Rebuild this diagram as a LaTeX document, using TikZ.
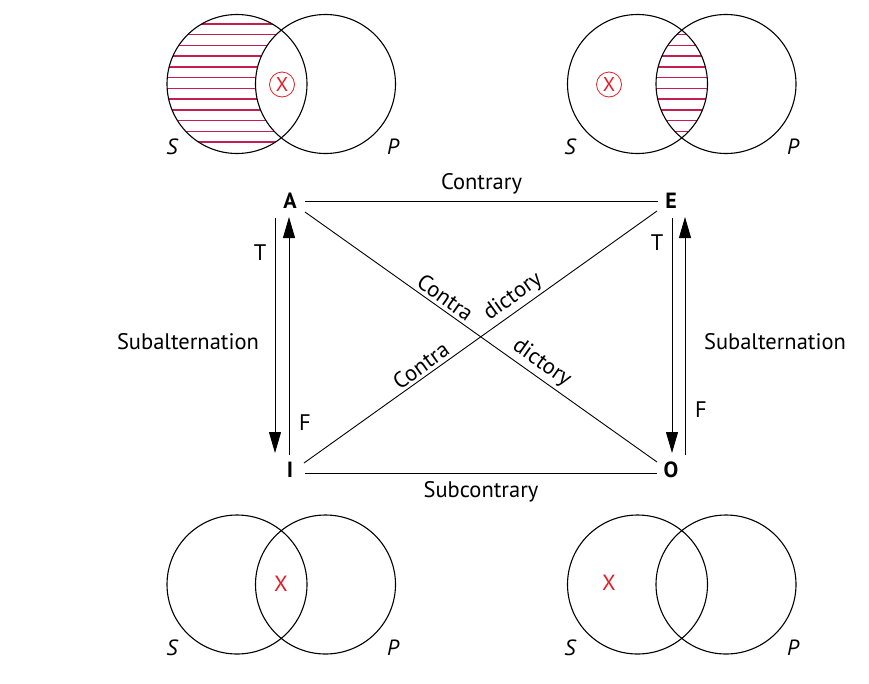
\documentclass[tikz,border=0pt]{standalone}
\usepackage{fontspec}
\setmainfont{PT Sans}
\usetikzlibrary{arrows.meta}
\definecolor{hatch}{RGB}{196,30,80}
\definecolor{xred}{RGB}{225,30,40}
\begin{document}
\begin{tikzpicture}[x=1pt,y=-1pt,
  every node/.style={font=\fontsize{22.5}{26}\selectfont, inner sep=0pt},
  vennline/.style={line width=1.1pt},
  hatchline/.style={draw=hatch, line width=1.4pt},
  conn/.style={line width=0.9pt},
  arr/.style={line width=0.9pt, -{Triangle[length=21pt,width=12pt]}},
  corner/.style={font=\bfseries\fontsize{22}{26}\selectfont},
  setlbl/.style={font=\itshape\fontsize{22}{26}\selectfont},
  redx/.style={text=xred, font=\fontsize{22}{26}\selectfont},
  circx/.style={draw=xred, text=xred, circle, line width=0.8pt, minimum size=25pt, font=\fontsize{20}{24}\selectfont}
]
\useasboundingbox (0,0) rectangle (869,683);

% ---------- top-left Venn (A) ----------
\begin{scope}
  \clip (237,84) ellipse [x radius=70, y radius=69.5];
  \foreach \k in {0,...,11} \draw[hatchline] (150,{24+10.73*\k}) -- (420,{24+10.73*\k});
  \fill[white] (325.5,84) ellipse [x radius=70, y radius=69.5];
\end{scope}
\draw[vennline] (237,84) ellipse [x radius=70, y radius=69.5];
\draw[vennline] (325.5,84) ellipse [x radius=70, y radius=69.5];
\node[circx] (xa) at (282,84.5) {X};
\node[setlbl] (sa) at (172,147) {S};
\node[setlbl] (pa) at (393,147) {P};

% ---------- top-right Venn (E) ----------
\begin{scope}
  \clip (637.5,84) ellipse [x radius=70, y radius=69.5];
  \clip (726,84) ellipse [x radius=70, y radius=69.5];
  \foreach \k in {0,...,11} \draw[hatchline] (550,{24+10.73*\k}) -- (820,{24+10.73*\k});
\end{scope}
\draw[vennline] (637.5,84) ellipse [x radius=70, y radius=69.5];
\draw[vennline] (726,84) ellipse [x radius=70, y radius=69.5];
\node[circx] (xe) at (609,84.5) {X};
\node[setlbl] (se) at (570,147) {S};
\node[setlbl] (pe) at (793,147) {P};

% ---------- bottom-left Venn (I) ----------
\draw[vennline] (237,584.5) ellipse [x radius=70, y radius=69.5];
\draw[vennline] (325.5,584.5) ellipse [x radius=70, y radius=69.5];
\node[redx] (xi) at (281,584) {X};
\node[setlbl] (si) at (172,648) {S};
\node[setlbl] (pi) at (393,648) {P};

% ---------- bottom-right Venn (O) ----------
\draw[vennline] (637.5,584.5) ellipse [x radius=70, y radius=69.5];
\draw[vennline] (726,584.5) ellipse [x radius=70, y radius=69.5];
\node[redx] (xo) at (609,583) {X};
\node[setlbl] (so) at (570,648) {S};
\node[setlbl] (po) at (793,648) {P};

% ---------- square of opposition ----------
\node[corner] (A) at (290,201) {A};
\node[corner] (E) at (671,201) {E};
\node[corner] (I) at (290,470) {I};
\node[corner] (O) at (671,470) {O};

\coordinate (ar) at (305,201);
\coordinate (el) at (658,201);
\coordinate (ir) at (305,473);
\coordinate (ol) at (657,473);
\coordinate (ad) at (305,212);
\coordinate (ed) at (657,211);
\coordinate (iu) at (304,463);
\coordinate (ou) at (657,462);

\draw[conn] (ar) -- node[pos=0.5, above=6pt] {Contrary} (el);
\draw[conn] (ir) -- node[pos=0.5, below=8pt] {Subcontrary} (ol);
\draw[conn] (ad) -- node[pos=0.38, sloped, above=3pt] {Contra} node[pos=0.65, sloped, above=3pt] {dictory} (ou);
\draw[conn] (iu) -- node[pos=0.35, sloped, above=3pt] {Contra} node[pos=0.615, sloped, above=3pt] {dictory} (ed);

% subalternation arrows
\coordinate (l1t) at (275,218);
\coordinate (l1b) at (275,453);
\coordinate (l2b) at (289,455);
\coordinate (l2t) at (289,217);
\coordinate (r1t) at (672,218);
\coordinate (r1b) at (672,453);
\coordinate (r2b) at (685,455);
\coordinate (r2t) at (685,217);
\draw[arr] (l1t) -- (l1b);
\draw[arr] (l2b) -- (l2t);
\draw[arr] (r1t) -- (r1b);
\draw[arr] (r2b) -- (r2t);

\node (tl) at (260,253) {T};
\node (fl) at (305,423) {F};
\node (tr) at (657,243) {T};
\node (fr) at (701,410) {F};
\node (subl) at (188,342) {Subalternation};
\node (subr) at (775,342) {Subalternation};
\end{tikzpicture}
\end{document}
